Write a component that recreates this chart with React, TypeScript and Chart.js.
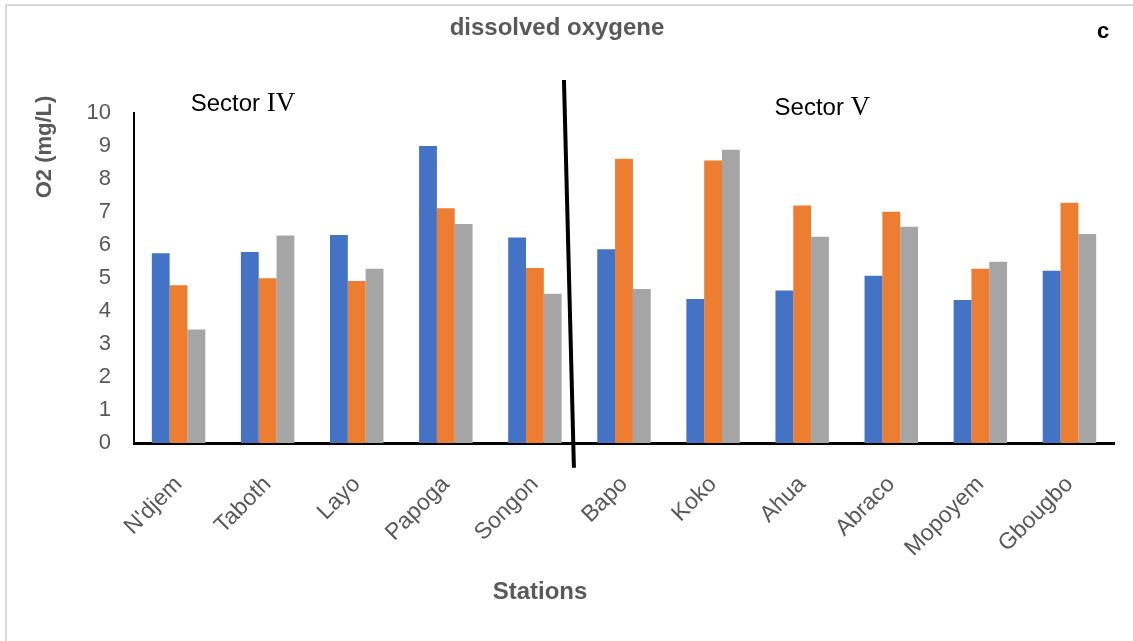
import React, { useEffect, useRef } from "react";
import { Chart, registerables } from "chart.js";

Chart.register(...registerables);

const TITLE = "dissolved oxygene";
const PANEL_LETTER = "c";
const Y_TITLE = "O2 (mg/L)";
const X_TITLE = "Stations";

const stations = ["N'djem", "Taboth", "Layo", "Papoga", "Songon", "Bapo", "Koko", "Ahua", "Abraco", "Mopoyem", "Gbougbo"];
const series1 = [5.75, 5.79, 6.3, 9.0, 6.23, 5.87, 4.36, 4.62, 5.07, 4.33, 5.22];
const series2 = [4.78, 4.99, 4.91, 7.11, 5.3, 8.61, 8.56, 7.2, 7.01, 5.28, 7.28];
const series3 = [3.44, 6.29, 5.28, 6.64, 4.52, 4.67, 8.89, 6.25, 6.55, 5.49, 6.33];
const seriesNames = ["Series1", "Series2", "Series3"];
const yMin = 0;
const yMax = 10;
const yStep = 1;

// divider between sectors (category index / value coordinates)
const dividerTop = { x: 4.326, y: 11.0 };
const dividerBottom = { x: 4.438, y: -0.75 };
// sector labels (category index / value)
const sectorLabels = [
  { word: "Sector ", numeral: "IV", x: 0.136, y: 10.34 },
  { word: "Sector ", numeral: "V", x: 6.69, y: 10.22 },
];

const SANS = 'Arial, "Liberation Sans", sans-serif';
const SERIF = '"Times New Roman", "Liberation Serif", serif';

const decorPlugin = {
  id: "decor",
  afterDraw(chart: any) {
    const { ctx } = chart;
    const xs = chart.scales.x;
    const ys = chart.scales.y;
    ctx.save();
    // outer frame
    ctx.strokeStyle = "#d9d9d9";
    ctx.lineWidth = 2;
    ctx.strokeRect(6, 5, 1160, 700);

    // title
    ctx.fillStyle = "#595959";
    ctx.font = `bold 24px ${SANS}`;
    ctx.textAlign = "center";
    ctx.textBaseline = "middle";
    ctx.fillText(TITLE, 557, 28);

    // panel letter
    ctx.fillStyle = "#000";
    ctx.font = `bold 22px ${SANS}`;
    ctx.fillText(PANEL_LETTER, 1103, 32);

    // x title
    ctx.fillStyle = "#595959";
    ctx.font = `bold 24px ${SANS}`;
    ctx.fillText(X_TITLE, 540, 592);

    // y title
    ctx.save();
    ctx.translate(45, 147);
    ctx.rotate(-Math.PI / 2);
    ctx.font = `bold 22px ${SANS}`;
    ctx.fillText(Y_TITLE, 0, 0);
    ctx.restore();

    // sector labels
    ctx.fillStyle = "#000";
    ctx.textAlign = "left";
    ctx.textBaseline = "alphabetic";
    for (const s of sectorLabels) {
      const px = xs.getPixelForValue(s.x);
      const py = ys.getPixelForValue(s.y) + 9;
      ctx.font = `24px ${SANS}`;
      ctx.fillText(s.word, px, py);
      const w = ctx.measureText(s.word).width;
      ctx.font = `27px ${SERIF}`;
      ctx.fillText(s.numeral, px + w, py);
    }

    // divider line
    ctx.strokeStyle = "#000";
    ctx.lineWidth = 4;
    ctx.beginPath();
    ctx.moveTo(xs.getPixelForValue(dividerTop.x), ys.getPixelForValue(dividerTop.y));
    ctx.lineTo(xs.getPixelForValue(dividerBottom.x), ys.getPixelForValue(dividerBottom.y));
    ctx.stroke();
    ctx.restore();
  },
};

export default function App() {
  const ref = useRef<HTMLCanvasElement | null>(null);
  useEffect(() => {
    document.body.style.margin = "0";
    const canvas = ref.current;
    if (!canvas) return;
    const chart = new Chart(canvas, {
      type: "bar",
      data: {
        labels: stations,
        datasets: [
          { label: seriesNames[0], data: series1, backgroundColor: "#4472C4" },
          { label: seriesNames[1], data: series2, backgroundColor: "#ED7D31" },
          { label: seriesNames[2], data: series3, backgroundColor: "#A5A5A5" },
        ],
      },
      options: {
        responsive: false,
        animation: false,
        devicePixelRatio: 1,
        layout: { padding: { top: 113, right: 19, bottom: 0, left: 0 } },
        plugins: {
          legend: { display: false },
          title: { display: false },
          tooltip: { enabled: false },
        },
        datasets: {
          bar: { categoryPercentage: 0.6, barPercentage: 1.0, borderWidth: 0 },
        },
        scales: {
          x: {
            z: 1,
            grid: { display: false, drawTicks: false },
            border: { display: true, color: "#000", width: 3 },
            ticks: {
              color: "#595959",
              font: { family: SANS, size: 23 },
              minRotation: 45,
              maxRotation: 45,
              padding: 28,
              autoSkip: false,
            },
            afterFit: (s: any) => {
              s.height = 198;
            },
          },
          y: {
            z: 1,
            min: yMin,
            max: yMax,
            grid: { display: false, drawTicks: false },
            border: { display: true, color: "#000", width: 2 },
            ticks: {
              stepSize: yStep,
              color: "#595959",
              font: { family: SANS, size: 22 },
              padding: 23,
            },
            afterFit: (s: any) => {
              s.width = 134;
            },
          },
        },
      },
      plugins: [decorPlugin],
    });
    return () => chart.destroy();
  }, []);
  return (
    <div style={{ width: 1133, height: 641, background: "#fff" }}>
      <canvas ref={ref} width={1133} height={641} />
    </div>
  );
}
